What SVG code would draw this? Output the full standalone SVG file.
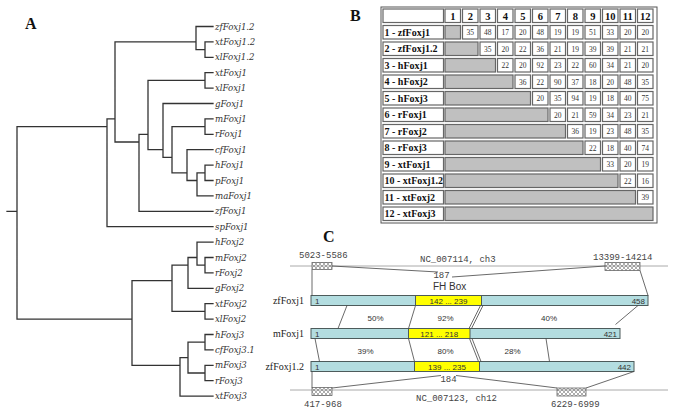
<svg xmlns="http://www.w3.org/2000/svg" width="674" height="416" viewBox="0 0 674 416">
<defs>
<pattern id="hatch" width="4" height="4" patternUnits="userSpaceOnUse">
<path d="M0 0L4 4M4 0L0 4" stroke="#777" stroke-width="0.6"/>
</pattern>
<style>
.panel{font-family:"Liberation Serif",serif;font-weight:bold;font-size:16px;fill:#111}
.tree{fill:none;stroke:#333;stroke-width:1.3;stroke-linecap:square}
.leaf{font-family:"DejaVu Serif",serif;font-style:italic;font-size:8.6px;fill:#333}
.cell{fill:#fff;stroke:#666;stroke-width:1.2}
.grey{fill:#c0c0c0;stroke:#666;stroke-width:1.2}
.hd{font-family:"Liberation Serif",serif;font-weight:bold;font-size:10.5px;fill:#111;text-anchor:middle}
.lab{font-family:"Liberation Serif",serif;font-weight:bold;font-size:10px;fill:#111}
.num{font-family:"Liberation Serif",serif;font-size:7.5px;fill:#333;text-anchor:middle}
.mono{font-family:"Liberation Mono",monospace;font-size:9px;fill:#444}
.sans{font-family:"Liberation Sans",Arial,sans-serif;fill:#333}
.bar{fill:#b3dde0;stroke:#4d5b5b;stroke-width:1}
.fh{fill:#ffff00;stroke:#4d5b5b;stroke-width:1}
.gl{stroke:#aaa;stroke-width:1;fill:none}
.ln{stroke:#444;stroke-width:0.8;fill:none}
.box{fill:url(#hatch);stroke:#666;stroke-width:0.8}
.gname{font-family:"Liberation Serif",serif;font-size:10px;fill:#222;text-anchor:end}
</style>
</defs>
<rect width="674" height="416" fill="#fff"/>

<g id="panel-A">
<text class="panel" x="25" y="28.5">A</text>
<g id="tree-connectors">
<path class="tree" d="M7 211.3H17M17 126.6V319.1M17 126.6H107M17 319.1H132
M107 118.9V226.7M107 118.9H115M107 226.7H213
M115 41.9V142M115 41.9H196M115 142H139
M196 26.5V49.6M196 26.5H213M196 49.6H205
M205 41.9V57.3M205 41.9H213M205 57.3H213
M139 134.3V211.3M139 134.3H148M139 211.3H213
M148 80.4V149.7M148 80.4H205M148 149.7H163
M205 72.7V88.1M205 72.7H213M205 88.1H213
M163 103.5V157.4M163 103.5H213M163 157.4H172
M172 126.6V172.8M172 126.6H205M172 172.8H187
M205 118.9V134.3M205 118.9H213M205 134.3H213
M187 149.7V180.5M187 149.7H213M187 180.5H197
M197 172.8V195.9M197 172.8H205M197 195.9H213
M205 165.1V180.5M205 165.1H213M205 180.5H213
M132 280.6V365.3M132 280.6H172M132 365.3H180
M172 265.2V311.4M172 265.2H188M172 311.4H205
M188 257.5V288.3M188 257.5H197M188 288.3H213
M197 242.1V265.2M197 242.1H213M197 265.2H205
M205 257.5V272.9M205 257.5H213M205 272.9H213
M205 303.7V319.1M205 303.7H213M205 319.1H213
M180 357.6V396.1M180 357.6H188M180 396.1H213
M188 342.2V373M188 342.2H205M188 373H205
M205 334.5V349.9M205 334.5H213M205 349.9H213
M205 365.3V380.7M205 365.3H213M205 380.7H213"/>
</g>
<g id="leaf-labels" class="leaf">
<text x="215" y="29.5">zfFoxj1.2</text>
<text x="215" y="44.9">xtFoxj1.2</text>
<text x="215" y="60.3">xlFoxj1.2</text>
<text x="215" y="75.7">xtFoxj1</text>
<text x="215" y="91.1">xlFoxj1</text>
<text x="215" y="106.5">gFoxj1</text>
<text x="215" y="121.9">mFoxj1</text>
<text x="215" y="137.3">rFoxj1</text>
<text x="215" y="152.7">cfFoxj1</text>
<text x="215" y="168.1">hFoxj1</text>
<text x="215" y="183.5">pFoxj1</text>
<text x="215" y="198.9">maFoxj1</text>
<text x="215" y="214.3">zfFoxj1</text>
<text x="215" y="229.7">spFoxj1</text>
<text x="215" y="245.1">hFoxj2</text>
<text x="215" y="260.5">mFoxj2</text>
<text x="215" y="275.9">rFoxj2</text>
<text x="215" y="291.3">gFoxj2</text>
<text x="215" y="306.7">xtFoxj2</text>
<text x="215" y="322.1">xlFoxj2</text>
<text x="215" y="337.5">hFoxj3</text>
<text x="215" y="352.9">cfFoxj3.1</text>
<text x="215" y="368.3">mFoxj3</text>
<text x="215" y="383.7">rFoxj3</text>
<text x="215" y="399.1">xtFoxj3</text>
</g>
</g>

<g id="panel-B">
<text class="panel" x="350" y="21">B</text>
<rect x="381" y="7" width="276" height="216" fill="#fff" stroke="#555" stroke-width="1"/>
<g id="table-header">
<rect class="cell" x="383" y="9" width="60.5" height="13.5"/>
<rect class="cell" x="445" y="9" width="15.5" height="13.5"/>
<rect class="cell" x="462.5" y="9" width="15.5" height="13.5"/>
<rect class="cell" x="480" y="9" width="15.5" height="13.5"/>
<rect class="cell" x="497.5" y="9" width="15.5" height="13.5"/>
<rect class="cell" x="515" y="9" width="15.5" height="13.5"/>
<rect class="cell" x="532.5" y="9" width="15.5" height="13.5"/>
<rect class="cell" x="550" y="9" width="15.5" height="13.5"/>
<rect class="cell" x="567.5" y="9" width="15.5" height="13.5"/>
<rect class="cell" x="585" y="9" width="15.5" height="13.5"/>
<rect class="cell" x="602.5" y="9" width="15.5" height="13.5"/>
<rect class="cell" x="620" y="9" width="15.5" height="13.5"/>
<rect class="cell" x="637.5" y="9" width="15.5" height="13.5"/>
<text class="hd" x="452.75" y="19.5">1</text>
<text class="hd" x="470.25" y="19.5">2</text>
<text class="hd" x="487.75" y="19.5">3</text>
<text class="hd" x="505.25" y="19.5">4</text>
<text class="hd" x="522.75" y="19.5">5</text>
<text class="hd" x="540.25" y="19.5">6</text>
<text class="hd" x="557.75" y="19.5">7</text>
<text class="hd" x="575.25" y="19.5">8</text>
<text class="hd" x="592.75" y="19.5">9</text>
<text class="hd" x="610.25" y="19.5">10</text>
<text class="hd" x="627.75" y="19.5">11</text>
<text class="hd" x="645.25" y="19.5">12</text>
</g>
<g id="table-labels">
<rect class="cell" x="383" y="25.5" width="60.5" height="13.5"/>
<rect class="cell" x="383" y="42" width="60.5" height="13.5"/>
<rect class="cell" x="383" y="58.5" width="60.5" height="13.5"/>
<rect class="cell" x="383" y="75" width="60.5" height="13.5"/>
<rect class="cell" x="383" y="91.5" width="60.5" height="13.5"/>
<rect class="cell" x="383" y="108" width="60.5" height="13.5"/>
<rect class="cell" x="383" y="124.5" width="60.5" height="13.5"/>
<rect class="cell" x="383" y="141" width="60.5" height="13.5"/>
<rect class="cell" x="383" y="157.5" width="60.5" height="13.5"/>
<rect class="cell" x="383" y="174" width="60.5" height="13.5"/>
<rect class="cell" x="383" y="190.5" width="60.5" height="13.5"/>
<rect class="cell" x="383" y="207" width="60.5" height="13.5"/>
<text class="lab" x="384.5" y="35.5">1 - zfFoxj1</text>
<text class="lab" x="384.5" y="52">2 - zfFoxj1.2</text>
<text class="lab" x="384.5" y="68.5">3 - hFoxj1</text>
<text class="lab" x="384.5" y="85">4 - hFoxj2</text>
<text class="lab" x="384.5" y="101.5">5 - hFoxj3</text>
<text class="lab" x="384.5" y="118">6 - rFoxj1</text>
<text class="lab" x="384.5" y="134.5">7 - rFoxj2</text>
<text class="lab" x="384.5" y="151">8 - rFoxj3</text>
<text class="lab" x="384.5" y="167.5">9 - xtFoxj1</text>
<text class="lab" x="384.5" y="184">10 - xtFoxj1.2</text>
<text class="lab" x="384.5" y="200.5">11 - xtFoxj2</text>
<text class="lab" x="384.5" y="217">12 - xtFoxj3</text>
</g>
<g id="table-diagonal">
<rect class="grey" x="445" y="25.5" width="15.5" height="13.5"/>
<rect class="grey" x="445" y="42" width="33" height="13.5"/>
<rect class="grey" x="445" y="58.5" width="50.5" height="13.5"/>
<rect class="grey" x="445" y="75" width="68" height="13.5"/>
<rect class="grey" x="445" y="91.5" width="85.5" height="13.5"/>
<rect class="grey" x="445" y="108" width="103" height="13.5"/>
<rect class="grey" x="445" y="124.5" width="120.5" height="13.5"/>
<rect class="grey" x="445" y="141" width="138" height="13.5"/>
<rect class="grey" x="445" y="157.5" width="155.5" height="13.5"/>
<rect class="grey" x="445" y="174" width="173" height="13.5"/>
<rect class="grey" x="445" y="190.5" width="190.5" height="13.5"/>
<rect class="grey" x="445" y="207" width="208" height="13.5"/>
</g>
<g id="table-values">
<g>
<rect class="cell" x="462.5" y="25.5" width="15.5" height="13.5"/><rect class="cell" x="480" y="25.5" width="15.5" height="13.5"/><rect class="cell" x="497.5" y="25.5" width="15.5" height="13.5"/><rect class="cell" x="515" y="25.5" width="15.5" height="13.5"/><rect class="cell" x="532.5" y="25.5" width="15.5" height="13.5"/><rect class="cell" x="550" y="25.5" width="15.5" height="13.5"/><rect class="cell" x="567.5" y="25.5" width="15.5" height="13.5"/><rect class="cell" x="585" y="25.5" width="15.5" height="13.5"/><rect class="cell" x="602.5" y="25.5" width="15.5" height="13.5"/><rect class="cell" x="620" y="25.5" width="15.5" height="13.5"/><rect class="cell" x="637.5" y="25.5" width="15.5" height="13.5"/>
<text class="num" x="470.25" y="35">35</text><text class="num" x="487.75" y="35">48</text><text class="num" x="505.25" y="35">17</text><text class="num" x="522.75" y="35">20</text><text class="num" x="540.25" y="35">48</text><text class="num" x="557.75" y="35">19</text><text class="num" x="575.25" y="35">19</text><text class="num" x="592.75" y="35">51</text><text class="num" x="610.25" y="35">33</text><text class="num" x="627.75" y="35">20</text><text class="num" x="645.25" y="35">20</text>
</g>
<g>
<rect class="cell" x="480" y="42" width="15.5" height="13.5"/><rect class="cell" x="497.5" y="42" width="15.5" height="13.5"/><rect class="cell" x="515" y="42" width="15.5" height="13.5"/><rect class="cell" x="532.5" y="42" width="15.5" height="13.5"/><rect class="cell" x="550" y="42" width="15.5" height="13.5"/><rect class="cell" x="567.5" y="42" width="15.5" height="13.5"/><rect class="cell" x="585" y="42" width="15.5" height="13.5"/><rect class="cell" x="602.5" y="42" width="15.5" height="13.5"/><rect class="cell" x="620" y="42" width="15.5" height="13.5"/><rect class="cell" x="637.5" y="42" width="15.5" height="13.5"/>
<text class="num" x="487.75" y="51.5">35</text><text class="num" x="505.25" y="51.5">20</text><text class="num" x="522.75" y="51.5">22</text><text class="num" x="540.25" y="51.5">36</text><text class="num" x="557.75" y="51.5">21</text><text class="num" x="575.25" y="51.5">19</text><text class="num" x="592.75" y="51.5">39</text><text class="num" x="610.25" y="51.5">39</text><text class="num" x="627.75" y="51.5">21</text><text class="num" x="645.25" y="51.5">21</text>
</g>
<g>
<rect class="cell" x="497.5" y="58.5" width="15.5" height="13.5"/><rect class="cell" x="515" y="58.5" width="15.5" height="13.5"/><rect class="cell" x="532.5" y="58.5" width="15.5" height="13.5"/><rect class="cell" x="550" y="58.5" width="15.5" height="13.5"/><rect class="cell" x="567.5" y="58.5" width="15.5" height="13.5"/><rect class="cell" x="585" y="58.5" width="15.5" height="13.5"/><rect class="cell" x="602.5" y="58.5" width="15.5" height="13.5"/><rect class="cell" x="620" y="58.5" width="15.5" height="13.5"/><rect class="cell" x="637.5" y="58.5" width="15.5" height="13.5"/>
<text class="num" x="505.25" y="68">22</text><text class="num" x="522.75" y="68">20</text><text class="num" x="540.25" y="68">92</text><text class="num" x="557.75" y="68">23</text><text class="num" x="575.25" y="68">22</text><text class="num" x="592.75" y="68">60</text><text class="num" x="610.25" y="68">34</text><text class="num" x="627.75" y="68">21</text><text class="num" x="645.25" y="68">20</text>
</g>
<g>
<rect class="cell" x="515" y="75" width="15.5" height="13.5"/><rect class="cell" x="532.5" y="75" width="15.5" height="13.5"/><rect class="cell" x="550" y="75" width="15.5" height="13.5"/><rect class="cell" x="567.5" y="75" width="15.5" height="13.5"/><rect class="cell" x="585" y="75" width="15.5" height="13.5"/><rect class="cell" x="602.5" y="75" width="15.5" height="13.5"/><rect class="cell" x="620" y="75" width="15.5" height="13.5"/><rect class="cell" x="637.5" y="75" width="15.5" height="13.5"/>
<text class="num" x="522.75" y="84.5">36</text><text class="num" x="540.25" y="84.5">22</text><text class="num" x="557.75" y="84.5">90</text><text class="num" x="575.25" y="84.5">37</text><text class="num" x="592.75" y="84.5">18</text><text class="num" x="610.25" y="84.5">20</text><text class="num" x="627.75" y="84.5">48</text><text class="num" x="645.25" y="84.5">35</text>
</g>
<g>
<rect class="cell" x="532.5" y="91.5" width="15.5" height="13.5"/><rect class="cell" x="550" y="91.5" width="15.5" height="13.5"/><rect class="cell" x="567.5" y="91.5" width="15.5" height="13.5"/><rect class="cell" x="585" y="91.5" width="15.5" height="13.5"/><rect class="cell" x="602.5" y="91.5" width="15.5" height="13.5"/><rect class="cell" x="620" y="91.5" width="15.5" height="13.5"/><rect class="cell" x="637.5" y="91.5" width="15.5" height="13.5"/>
<text class="num" x="540.25" y="101">20</text><text class="num" x="557.75" y="101">35</text><text class="num" x="575.25" y="101">94</text><text class="num" x="592.75" y="101">19</text><text class="num" x="610.25" y="101">18</text><text class="num" x="627.75" y="101">40</text><text class="num" x="645.25" y="101">75</text>
</g>
<g>
<rect class="cell" x="550" y="108" width="15.5" height="13.5"/><rect class="cell" x="567.5" y="108" width="15.5" height="13.5"/><rect class="cell" x="585" y="108" width="15.5" height="13.5"/><rect class="cell" x="602.5" y="108" width="15.5" height="13.5"/><rect class="cell" x="620" y="108" width="15.5" height="13.5"/><rect class="cell" x="637.5" y="108" width="15.5" height="13.5"/>
<text class="num" x="557.75" y="117.5">20</text><text class="num" x="575.25" y="117.5">21</text><text class="num" x="592.75" y="117.5">59</text><text class="num" x="610.25" y="117.5">34</text><text class="num" x="627.75" y="117.5">23</text><text class="num" x="645.25" y="117.5">21</text>
</g>
<g>
<rect class="cell" x="567.5" y="124.5" width="15.5" height="13.5"/><rect class="cell" x="585" y="124.5" width="15.5" height="13.5"/><rect class="cell" x="602.5" y="124.5" width="15.5" height="13.5"/><rect class="cell" x="620" y="124.5" width="15.5" height="13.5"/><rect class="cell" x="637.5" y="124.5" width="15.5" height="13.5"/>
<text class="num" x="575.25" y="134">36</text><text class="num" x="592.75" y="134">19</text><text class="num" x="610.25" y="134">23</text><text class="num" x="627.75" y="134">48</text><text class="num" x="645.25" y="134">35</text>
</g>
<g>
<rect class="cell" x="585" y="141" width="15.5" height="13.5"/><rect class="cell" x="602.5" y="141" width="15.5" height="13.5"/><rect class="cell" x="620" y="141" width="15.5" height="13.5"/><rect class="cell" x="637.5" y="141" width="15.5" height="13.5"/>
<text class="num" x="592.75" y="150.5">22</text><text class="num" x="610.25" y="150.5">18</text><text class="num" x="627.75" y="150.5">40</text><text class="num" x="645.25" y="150.5">74</text>
</g>
<g>
<rect class="cell" x="602.5" y="157.5" width="15.5" height="13.5"/><rect class="cell" x="620" y="157.5" width="15.5" height="13.5"/><rect class="cell" x="637.5" y="157.5" width="15.5" height="13.5"/>
<text class="num" x="610.25" y="167">33</text><text class="num" x="627.75" y="167">20</text><text class="num" x="645.25" y="167">19</text>
</g>
<g>
<rect class="cell" x="620" y="174" width="15.5" height="13.5"/><rect class="cell" x="637.5" y="174" width="15.5" height="13.5"/>
<text class="num" x="627.75" y="183.5">22</text><text class="num" x="645.25" y="183.5">16</text>
</g>
<g>
<rect class="cell" x="637.5" y="190.5" width="15.5" height="13.5"/>
<text class="num" x="645.25" y="200">39</text>
</g>
</g>
</g>

<g id="panel-C">
<text class="panel" x="323" y="242">C</text>
<g id="genomic-top">
<path class="gl" d="M290 266H668"/>
<rect class="box" x="312" y="262.5" width="20" height="7"/>
<rect class="box" x="605" y="262.5" width="35" height="8"/>
<text class="mono" x="299" y="258">5023-5586</text>
<text class="mono" x="420" y="261.5">NC_007114, ch3</text>
<text class="mono" x="593" y="260">13399-14214</text>
<text class="mono" x="441.5" y="277.5" text-anchor="middle">187</text>
</g>
<g id="genomic-bottom">
<path class="gl" d="M290 390H668"/>
<rect class="box" x="312" y="387.5" width="20" height="8"/>
<rect class="box" x="557" y="388" width="29" height="8"/>
<text class="mono" x="448.5" y="382" text-anchor="middle">184</text>
<text class="mono" x="416" y="401">NC_007123, ch12</text>
<text class="mono" x="304" y="407">417-968</text>
<text class="mono" x="551" y="407">6229-6999</text>
</g>
<text class="sans" x="433" y="290" font-size="10">FH Box</text>
<g id="zfFoxj1">
<text class="gname" x="304" y="303.5">zfFoxj1</text>
<rect class="bar" x="311" y="295.5" width="337" height="10"/>
<rect class="fh" x="415.5" y="295.5" width="66" height="10"/>
<text class="sans" x="315" y="304" font-size="8">1</text>
<text class="sans" x="448.5" y="304" font-size="8" text-anchor="middle">142 ... 239</text>
<text class="sans" x="645" y="304" font-size="8" text-anchor="end">458</text>
</g>
<g id="mFoxj1">
<text class="gname" x="304" y="336.5">mFoxj1</text>
<rect class="bar" x="311" y="328.5" width="309" height="10"/>
<rect class="fh" x="408.5" y="328.5" width="61.5" height="10"/>
<text class="sans" x="315" y="337" font-size="8">1</text>
<text class="sans" x="439.25" y="337" font-size="8" text-anchor="middle">121 ... 218</text>
<text class="sans" x="617" y="337" font-size="8" text-anchor="end">421</text>
</g>
<g id="zfFoxj1.2">
<text class="gname" x="304" y="369.5">zfFoxj1.2</text>
<rect class="bar" x="311" y="361.5" width="323" height="10"/>
<rect class="fh" x="414.5" y="361.5" width="65" height="10"/>
<text class="sans" x="315" y="370" font-size="8">1</text>
<text class="sans" x="447" y="370" font-size="8" text-anchor="middle">139 ... 235</text>
<text class="sans" x="631" y="370" font-size="8" text-anchor="end">442</text>
</g>
<g id="connectors">
<path class="ln" d="M312 269.5V295.5M332 266L438 272M452 277L605 266M640 270.5L648 295.5"/>
<path class="ln" d="M312 371.5V387.5M332 388L441 375.5M456 375.5L557 388M586 388L634 371.5"/>
<path class="ln" d="M347 305.5L338 328.5M415.5 305.5L408.5 328.5M480.5 305.5L469 328.5M483 305.5L471.5 328.5M638 305.5L615.5 324.5"/>
<path class="ln" d="M315 338.5L319.5 361.5M408.5 338.5L414.5 361.5M469.5 338.5L478.5 361.5M472 338.5L481 361.5M546 338.5L549.5 361.5"/>
</g>
<g id="identities" class="sans" font-size="8" text-anchor="middle">
<text x="375.5" y="321">50%</text>
<text x="445.5" y="321">92%</text>
<text x="549" y="321">40%</text>
<text x="365.5" y="354">39%</text>
<text x="445.5" y="354">80%</text>
<text x="512.5" y="354">28%</text>
</g>
</g>
</svg>
